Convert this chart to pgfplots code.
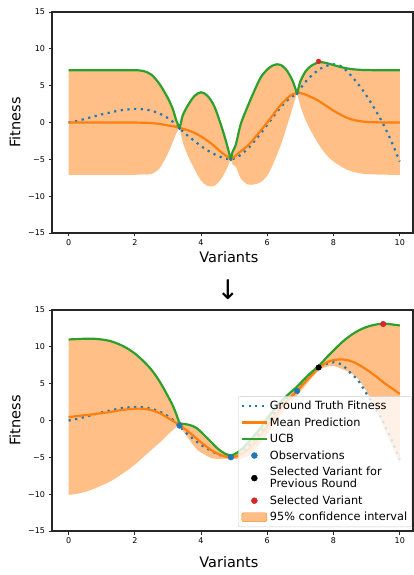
\documentclass[border=0pt]{standalone}
\usepackage{fontspec}
\setmainfont{DejaVu Sans}
\usepackage{pgfplots}
\pgfplotsset{compat=1.18}
\usepackage{pgfplotstable}
\usepgfplotslibrary{fillbetween}
\definecolor{mplblue}{HTML}{1F77B4}
\definecolor{mplorange}{HTML}{FF7F0E}
\definecolor{mplgreen}{HTML}{2CA02C}
\definecolor{mplred}{HTML}{D62728}

\pgfplotstableread{
x gt mean ucb lower
0 0.0 0.0 7.1 -7.1
0.25 0.2 0 7.1 -7.1
0.5 0.5 0 7.1 -7.1
0.75 0.8 0 7.1 -7.1
1.0 1.1 0 7.1 -7.1
1.25 1.35 0 7.1 -7.1
1.5 1.6 0 7.1 -7.1
1.75 1.75 0 7.1 -7.1
2.0 1.85 -0.01 7.1 -7.1
2.25 1.8 -0.03 7.0 -7.05
2.5 1.6 -0.08 6.5 -7.0
2.75 1.2 -0.2 5.2 -6.2
3.0 0.6 -0.4 3.3 -4.2
3.15 0.1 -0.5 1.8 -2.6
3.25 -0.3 -0.6 0.3 -1.5
3.3 -0.55 -0.68 -0.22 -1.15
3.35 -0.8 -0.75 -0.75 -0.75
3.4 -1.0 -0.8 0.12 -1.72
3.45 -1.2 -0.85 1.0 -2.7
3.6 -1.8 -1.05 2.3 -4.5
3.8 -2.5 -1.4 3.6 -6.3
4.0 -3.2 -1.9 4.1 -7.9
4.2 -3.8 -2.5 3.6 -8.6
4.4 -4.3 -3.2 2.2 -8.6
4.6 -4.7 -4.0 -0.3 -7.7
4.75 -4.9 -4.5 -2.5 -6.5
4.85 -4.97 -4.83 -4.17 -5.5
4.9 -5.0 -5.0 -5.0 -5.0
4.95 -4.95 -4.83 -4.0 -5.66
5.05 -4.8 -4.5 -3.0 -6.0
5.2 -4.4 -3.9 -0.2 -7.6
5.4 -3.6 -3.2 2.1 -8.4
5.6 -2.6 -2.2 4.2 -8.4
5.8 -1.5 -1.1 6.1 -8.1
6.0 -0.3 0.0 7.2 -7.2
6.15 0.6 0.9 7.7 -5.9
6.3 1.5 1.8 7.9 -4.3
6.45 2.3 2.6 7.7 -2.5
6.6 3.0 3.3 7.0 -0.4
6.75 3.5 3.8 5.8 1.8
6.85 3.8 3.95 4.6 3.3
6.9 3.9 4.0 4.0 4.0
6.95 4.25 4.0 4.8 3.1
7.0 4.6 4.0 5.6 2.2
7.15 5.5 3.8 6.9 0.4
7.3 6.2 3.5 7.6 -1.0
7.45 6.8 3.2 8.0 -2.2
7.6 7.3 2.8 8.2 -3.3
7.8 7.7 2.2 8.05 -4.5
8.0 7.9 1.6 7.8 -5.3
8.2 7.7 1.1 7.55 -5.9
8.4 7.0 0.65 7.35 -6.4
8.6 6.0 0.35 7.22 -6.7
8.8 4.9 0.18 7.15 -6.9
9.0 3.6 0.08 7.12 -7.0
9.25 1.8 0.03 7.1 -7.05
9.5 -0.2 0.01 7.1 -7.08
9.75 -2.6 0 7.1 -7.1
10 -5.3 0 7.1 -7.1
}\topdata

\pgfplotstableread{
x gt mean ucb lower
0 0.0 0.45 11.0 -10.1
0.25 0.2 0.6 11.05 -9.95
0.5 0.5 0.72 11.1 -9.7
0.75 0.8 0.85 11.1 -9.3
1.0 1.1 1.0 11.0 -8.8
1.25 1.35 1.15 10.8 -8.3
1.5 1.6 1.35 10.4 -7.6
1.75 1.75 1.5 9.85 -6.85
2.0 1.85 1.6 9.1 -6.0
2.25 1.8 1.6 8.1 -5.0
2.5 1.6 1.4 6.9 -4.0
2.75 1.2 1.0 5.3 -3.0
3.0 0.6 0.35 3.3 -1.9
3.15 0.1 -0.05 2.0 -1.3
3.25 -0.3 -0.3 0.9 -0.9
3.35 -0.8 -0.6 -0.3 -0.75
3.45 -1.25 -0.95 -0.45 -1.4
3.6 -1.9 -1.45 -0.55 -2.35
3.75 -2.45 -2.0 -0.75 -3.25
3.9 -3.0 -2.6 -1.15 -4.05
4.1 -3.6 -3.3 -2.0 -4.6
4.3 -4.1 -4.0 -2.9 -5.1
4.5 -4.6 -4.5 -3.8 -5.2
4.7 -4.85 -4.85 -4.45 -5.2
4.9 -5.0 -5.0 -4.75 -5.2
5.0 -4.9 -4.95 -4.6 -5.2
5.2 -4.4 -4.6 -4.0 -5.2
5.5 -3.2 -3.6 -2.6 -4.6
5.8 -1.6 -2.0 -1.0 -3.0
6.0 -0.3 -0.8 0.3 -1.9
6.3 1.5 1.0 2.0 0.0
6.6 3.0 2.7 3.4 2.0
6.9 3.9 4.0 4.6 3.4
7.2 5.9 5.5 6.0 5.0
7.55 7.2 7.1 7.4 6.8
7.8 7.7 7.9 8.6 7.3
8.0 7.9 8.2 9.5 7.4
8.25 7.6 8.3 10.6 7.0
8.5 6.5 8.1 11.5 6.5
8.75 5.4 7.6 12.2 5.6
9.0 3.6 6.9 12.7 3.9
9.25 1.8 6.1 13.0 1.9
9.5 -0.2 5.2 13.15 -0.8
9.75 -2.6 4.4 13.05 -3.3
10 -5.3 3.6 12.9 -5.8
}\botdata

\pgfplotsset{
  myaxis/.style={
    scale only axis, width=361pt, height=221pt,
    xmin=-0.5, xmax=10.4, ymin=-15, ymax=15,
    xtick={0,2,4,6,8,10}, xticklabels={0,2,4,6,8,10},
    ytick={-15,-10,-5,0,5,10,15},
    yticklabels={−15,−10,−5,0,5,10,15},
    tick align=outside, tick pos=left,
    major tick length=3.5pt,
    axis line style={line width=1.2pt, black!85},
    every tick/.style={line width=0.8pt, black!85},
    ticklabel style={font=\fontsize{8}{9}\selectfont},
    label style={font=\fontsize{14.5}{16}\selectfont},
    xlabel=Variants, ylabel=Fitness,
    ylabel style={at={(axis description cs:-0.1025,0.5)}, anchor=center},
  },
  gtstyle/.style={mplblue, line width=2.2pt, dash pattern=on 2.2pt off 4.5pt, smooth},
  meanstyle/.style={mplorange, line width=2.2pt, smooth},
  ucbstyle/.style={mplgreen, line width=2.2pt, smooth},
}

\begin{document}
\begin{tikzpicture}
% ---------- top panel ----------
\begin{axis}[myaxis, at={(0pt,0pt)}, anchor=south west,
  xlabel style={at={(axis description cs:0.49,-0.111)}, anchor=center}]
\addplot[draw=none, smooth, name path=tu, forget plot] table[x=x,y=ucb]{\topdata};
\addplot[draw=none, smooth, name path=tl, forget plot] table[x=x,y=lower]{\topdata};
\addplot[fill=mplorange, fill opacity=0.5, draw=none, forget plot] fill between[of=tu and tl];
\addplot[gtstyle, forget plot] table[x=x,y=gt]{\topdata};
\addplot[meanstyle, forget plot] table[x=x,y=mean]{\topdata};
\addplot[ucbstyle, forget plot] table[x=x,y=ucb]{\topdata};
\addplot[only marks, mark=*, mark size=1.2pt, mplblue, forget plot] coordinates {(3.35,-0.8) (4.9,-5.0) (6.9,3.9)};
\addplot[only marks, mark=*, mark size=2.4pt, mplred, forget plot] coordinates {(7.55,8.3)};
\end{axis}

\node at (176pt,-57pt) {\fontsize{27}{29}\selectfont ↓};

% ---------- bottom panel ----------
\begin{axis}[myaxis, at={(0pt,-298pt)}, anchor=south west,
  xlabel style={at={(axis description cs:0.49,-0.140)}, anchor=center},
  legend cell align=left,
  legend style={at={(axis description cs:0.997,0.018)}, anchor=south east,
    font=\fontsize{11.3}{12}\selectfont, cells={align=left},
    draw=black!20, rounded corners=2pt, fill=white, fill opacity=0.8, text opacity=1,
    row sep=2.5pt, inner sep=2.5pt}]
\addplot[draw=none, smooth, name path=bu, forget plot] table[x=x,y=ucb]{\botdata};
\addplot[draw=none, smooth, name path=bl, forget plot] table[x=x,y=lower]{\botdata};
\addplot[fill=mplorange, fill opacity=0.5, draw=none, forget plot] fill between[of=bu and bl];
\addplot[gtstyle, forget plot] table[x=x,y=gt]{\botdata};
\addplot[meanstyle, forget plot] table[x=x,y=mean]{\botdata};
\addplot[ucbstyle, forget plot] table[x=x,y=ucb]{\botdata};
\addplot[only marks, mark=*, mark size=2.8pt, mplblue, forget plot] coordinates {(3.35,-0.7) (4.9,-5.0) (6.9,4.0)};
\addplot[only marks, mark=*, mark size=2.8pt, black, forget plot] coordinates {(7.55,7.2)};
\addplot[only marks, mark=*, mark size=2.8pt, mplred, forget plot] coordinates {(9.5,13.1)};

\addlegendimage{legend image code/.code={\draw[mplblue, line width=2.2pt, dash pattern=on 2.2pt off 4.5pt, draw opacity=1] (0pt,0pt) -- (25pt,0pt);}}
\addlegendentry{Ground Truth Fitness}
\addlegendimage{legend image code/.code={\draw[mplorange, line width=2.2pt, draw opacity=1] (0pt,0pt) -- (25pt,0pt);}}
\addlegendentry{Mean Prediction}
\addlegendimage{legend image code/.code={\draw[mplgreen, line width=2.2pt, draw opacity=1] (0pt,0pt) -- (25pt,0pt);}}
\addlegendentry{UCB}
\addlegendimage{legend image code/.code={\fill[mplblue, fill opacity=1] (12.5pt,0pt) circle (3pt);}}
\addlegendentry{Observations}
\addlegendimage{legend image code/.code={\fill[black, fill opacity=1] (12.5pt,0pt) circle (3pt);}}
\addlegendentry{Selected Variant for\\Previous Round}
\addlegendimage{legend image code/.code={\fill[mplred, fill opacity=1] (12.5pt,0pt) circle (3pt);}}
\addlegendentry{Selected Variant}
\addlegendimage{legend image code/.code={\fill[mplorange, fill opacity=0.5] (0pt,-4.5pt) rectangle (25pt,4.5pt);}}
\addlegendentry{95\% confidence interval}
\end{axis}

\pgfresetboundingbox
\path[use as bounding box] (-52pt,-342pt) rectangle (362pt,233pt);
\end{tikzpicture}
\end{document}
